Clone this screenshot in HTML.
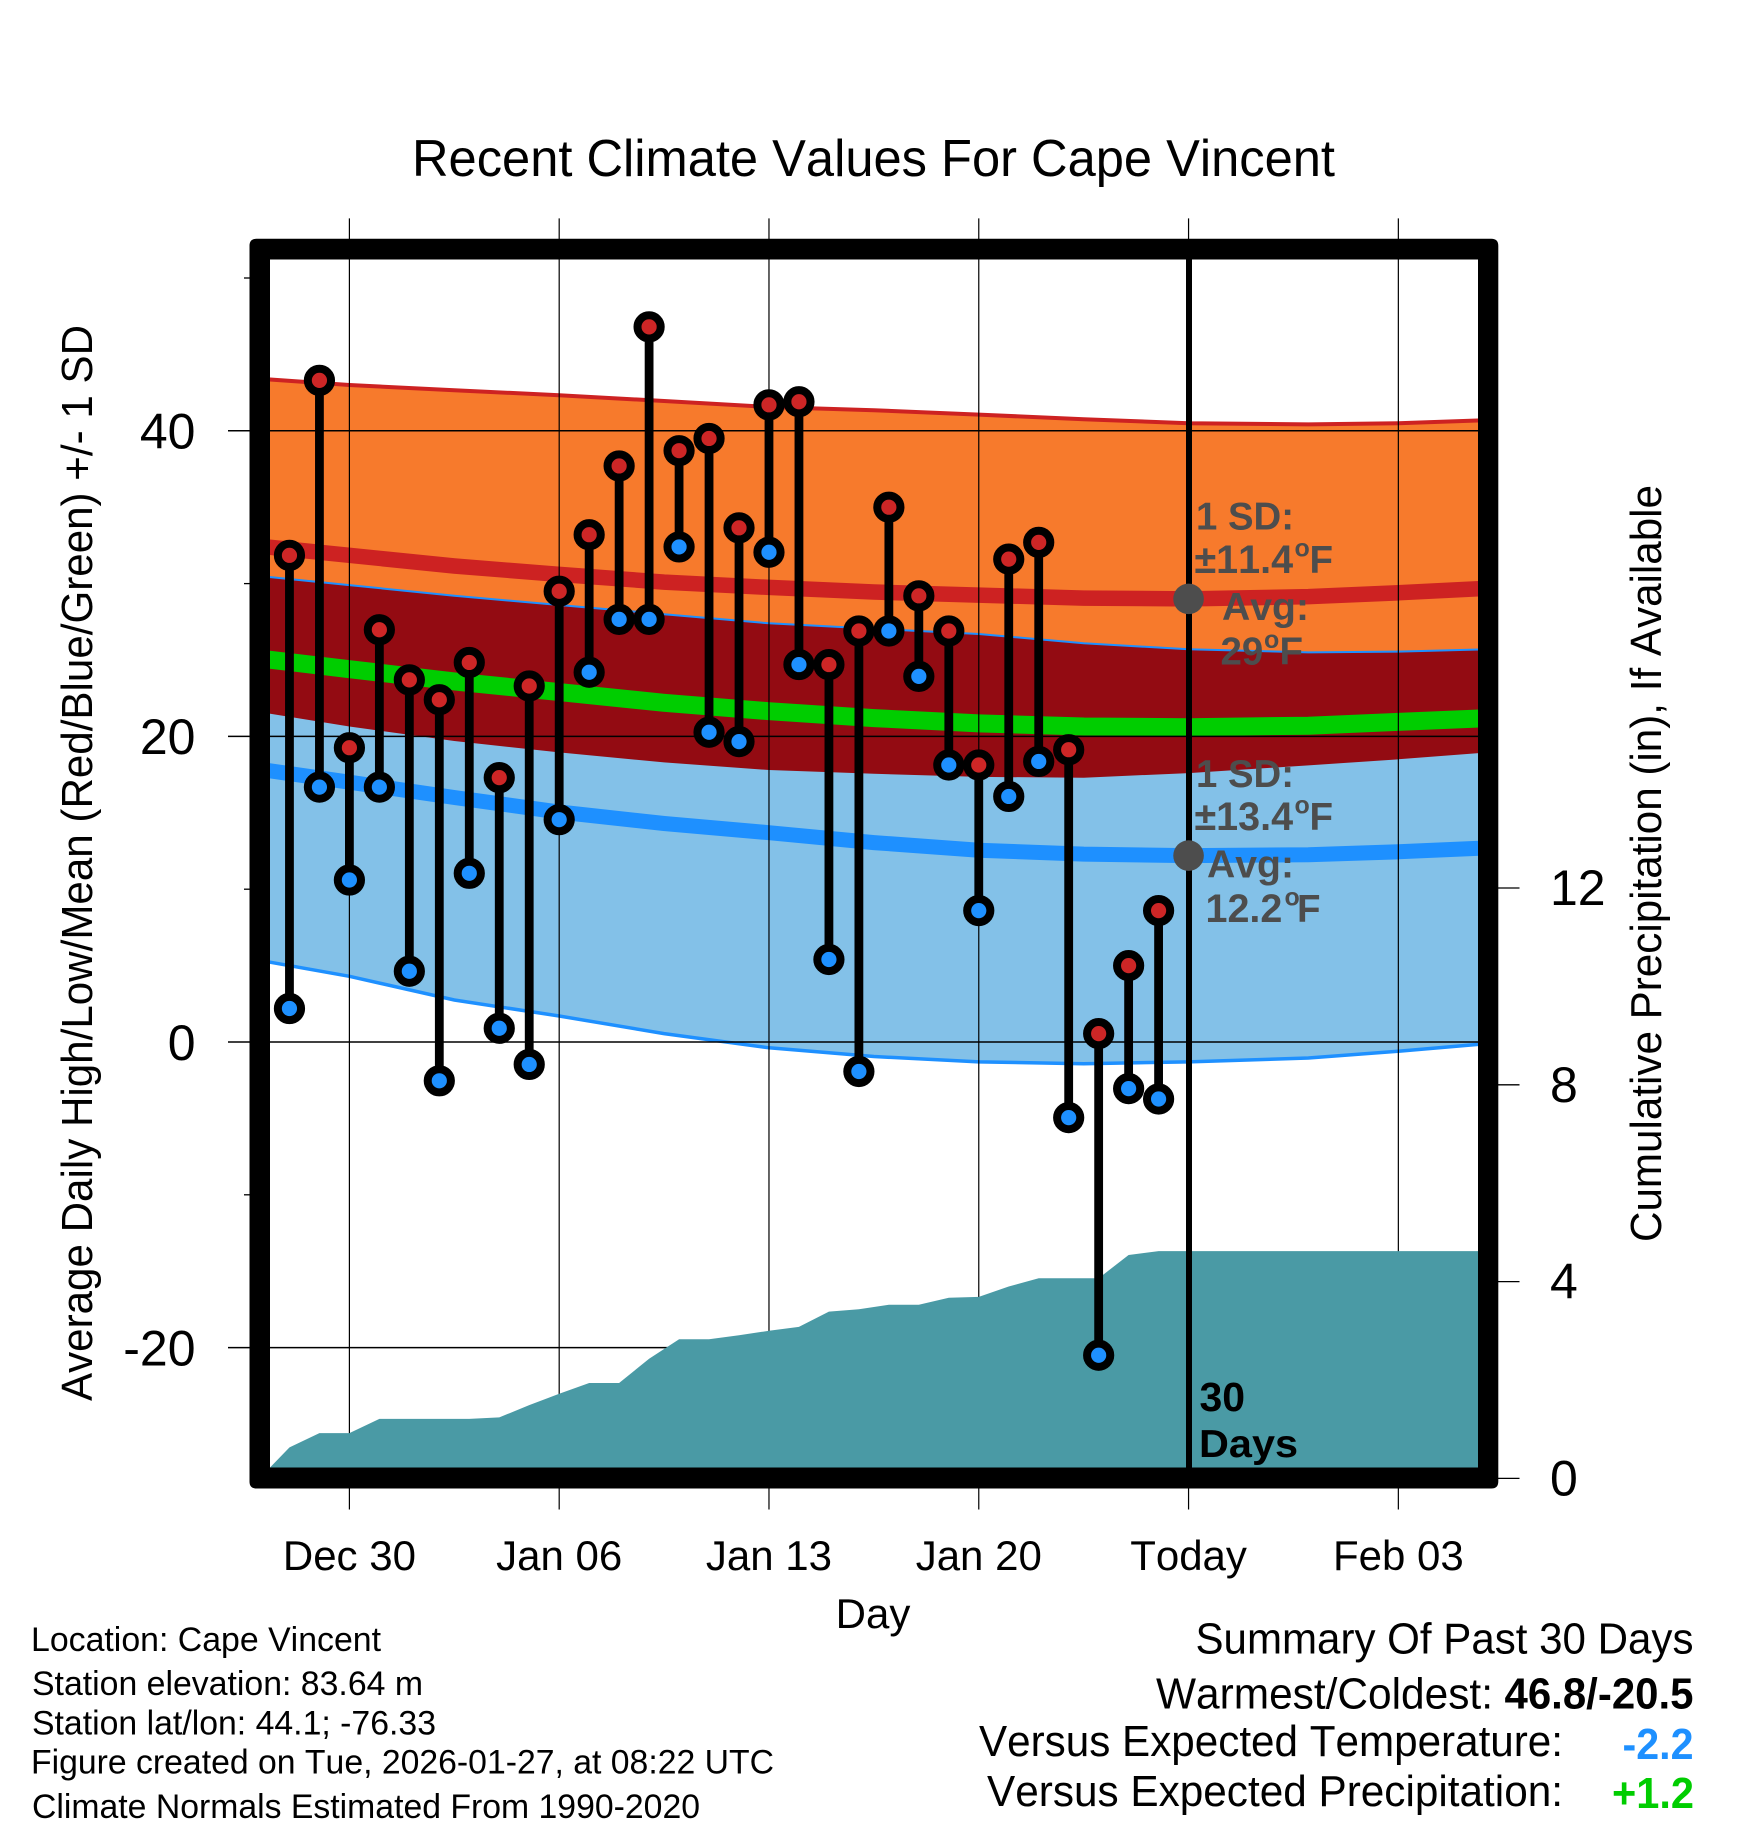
<!DOCTYPE html>
<html lang="en">
<head>
<meta charset="utf-8">
<title>Recent Climate Values For Cape Vincent</title>
<style>
html,body{margin:0;padding:0;background:#fff;}
svg{display:block;}
text{font-family:"Liberation Sans",Arial,sans-serif;fill:#000;font-kerning:none;}
.note{font-weight:bold;fill:#4d4d4d;font-size:38.5px;}
.sum{font-size:44px;}
.info{font-size:34.5px;}
</style>
</head>
<body>
<svg id="chart" xmlns="http://www.w3.org/2000/svg" width="1748" height="1828" viewBox="0 0 1748 1828">
  <rect x="0" y="0" width="1748" height="1828" fill="#fff"/>
  <g id="bands"></g>
  <g id="grid"></g>
  <g id="precip"></g>
  <path fill="#000" fill-rule="evenodd" d="M256.5 238.8H1491.3Q1498.3 238.8 1498.3 245.8V1481.5Q1498.3 1488.5 1491.3 1488.5H256.5Q249.5 1488.5 249.5 1481.5V245.8Q249.5 238.8 256.5 238.8ZM270 259.5V1467.5H1478V259.5Z"/>
  <g id="ticklabels"></g>
  <g id="temps"></g>
  <line id="today" x1="1189" x2="1189" y1="259" y2="1468" stroke="#000" stroke-width="6"/>
  <g id="avgdots"></g>

  <text x="412" y="176" font-size="52" textLength="923" lengthAdjust="spacingAndGlyphs">Recent Climate Values For Cape Vincent</text>
  <text transform="translate(92,1401) rotate(-90)" font-size="44" textLength="1076" lengthAdjust="spacingAndGlyphs">Average Daily High/Low/Mean (Red/Blue/Green) +/- 1 SD</text>
  <text transform="translate(1661,1242) rotate(-90)" font-size="44" textLength="757" lengthAdjust="spacingAndGlyphs">Cumulative Precipitation (in), If Available</text>
  <text x="873" y="1628" font-size="42" text-anchor="middle">Day</text>

  <text class="note" x="1196" y="529.5" textLength="98" lengthAdjust="spacingAndGlyphs">1 SD:</text>
  <text class="note" y="573"><tspan x="1194.5" font-size="39.5">±11.4</tspan><tspan x="1294.5" dy="-16.5" font-size="25">o</tspan><tspan x="1309.5" dy="16.5">F</tspan></text>
  <text class="note" x="1222" y="620" textLength="87" lengthAdjust="spacingAndGlyphs">Avg:</text>
  <text class="note" y="664.3"><tspan x="1220.5">29</tspan><tspan x="1264" dy="-16.5" font-size="25">o</tspan><tspan x="1279.5" dy="16.5">F</tspan></text>

  <text class="note" x="1196" y="787" textLength="98" lengthAdjust="spacingAndGlyphs">1 SD:</text>
  <text class="note" y="830"><tspan x="1194.5" font-size="39.5">±13.4</tspan><tspan x="1294.5" dy="-16.5" font-size="25">o</tspan><tspan x="1309.5" dy="16.5">F</tspan></text>
  <text class="note" x="1207" y="877.5" textLength="87" lengthAdjust="spacingAndGlyphs">Avg:</text>
  <text class="note" y="922"><tspan x="1205.5" font-size="39.5">12.2</tspan><tspan x="1284.5" dy="-16.5" font-size="25">o</tspan><tspan x="1297" dy="16.5">F</tspan></text>

  <text font-weight="bold" font-size="41" x="1199.5" y="1411">30</text>
  <text font-weight="bold" font-size="39" x="1199" y="1457" textLength="99" lengthAdjust="spacingAndGlyphs">Days</text>

  <text class="info" x="31" y="1651" textLength="350" lengthAdjust="spacingAndGlyphs">Location: Cape Vincent</text>
  <text class="info" x="32" y="1695" textLength="391" lengthAdjust="spacingAndGlyphs">Station elevation: 83.64 m</text>
  <text class="info" x="32" y="1734.5" textLength="404" lengthAdjust="spacingAndGlyphs">Station lat/lon: 44.1; -76.33</text>
  <text class="info" x="31" y="1773.5" textLength="743" lengthAdjust="spacingAndGlyphs">Figure created on Tue, 2026-01-27, at 08:22 UTC</text>
  <text class="info" x="32" y="1818" textLength="668" lengthAdjust="spacingAndGlyphs">Climate Normals Estimated From 1990-2020</text>

  <text class="sum" x="1195.5" y="1653.5" textLength="498" lengthAdjust="spacingAndGlyphs">Summary Of Past 30 Days</text>
  <text class="sum" x="1156" y="1708.5" textLength="337" lengthAdjust="spacingAndGlyphs">Warmest/Coldest:</text>
  <text class="sum" font-weight="bold" x="1504.5" y="1708.5" textLength="189" lengthAdjust="spacingAndGlyphs">46.8/-20.5</text>
  <text class="sum" x="979" y="1756" textLength="584" lengthAdjust="spacingAndGlyphs">Versus Expected Temperature:</text>
  <text class="sum" font-weight="bold" x="1622.5" y="1759" textLength="71" lengthAdjust="spacingAndGlyphs" style="fill:#1e90ff">-2.2</text>
  <text class="sum" x="987" y="1806" textLength="576" lengthAdjust="spacingAndGlyphs">Versus Expected Precipitation:</text>
  <text class="sum" font-weight="bold" x="1612" y="1808" textLength="82" lengthAdjust="spacingAndGlyphs" style="fill:#00cd00">+1.2</text>
</svg>
<script>
// Chart data (days are counted from Dec 30; temperatures in F, precipitation in inches)
var normalDays   = [-3, 0, 3.5, 7, 10.5, 14, 17.5, 21, 24.5, 28, 32, 35, 38];
var highPlusSD   = [43.4, 43.0, 42.65, 42.33, 41.95, 41.56, 41.35, 41.06, 40.75, 40.5, 40.42, 40.5, 40.7];
var highMean     = [32.45, 31.85, 31.15, 30.6, 30.1, 29.75, 29.45, 29.25, 29.05, 29.0, 29.15, 29.4, 29.7];
var highMinusSD  = [21.6, 20.65, 19.7, 18.95, 18.3, 17.8, 17.55, 17.35, 17.3, 17.6, 18.1, 18.5, 18.95];
var lowPlusSD    = [30.5, 29.9, 29.2, 28.6, 28.0, 27.4, 27.05, 26.7, 26.1, 25.7, 25.5, 25.55, 25.7];
var lowMean      = [17.85, 17.0, 16.0, 15.05, 14.3, 13.7, 13.05, 12.55, 12.3, 12.2, 12.25, 12.45, 12.7];
var lowMinusSD   = [5.35, 4.3, 2.75, 1.7, 0.55, -0.38, -0.95, -1.3, -1.42, -1.3, -1.05, -0.6, -0.1];
var meanTemp     = [25.1, 24.4, 23.6, 22.9, 22.2, 21.65, 21.2, 20.85, 20.65, 20.6, 20.7, 20.95, 21.2];

var obsDays  = [-2,-1,0,1,2,3,4,5,6,7,8,9,10,11,12,13,14,15,16,17,18,19,20,21,22,23,24,25,26,27];
var obsHighs = [31.85,43.3,19.26,26.98,23.7,22.4,24.84,17.3,23.3,29.5,33.2,37.7,46.8,38.7,39.5,33.65,41.7,41.9,24.7,26.9,35.0,29.2,26.9,18.13,31.6,32.7,19.13,0.55,5.0,8.6];
var obsLows  = [2.19,16.68,10.6,16.68,4.63,-2.54,11.04,0.9,-1.47,14.55,24.2,27.66,27.66,32.4,20.27,19.66,32.05,24.7,5.4,-1.93,26.9,23.93,18.13,8.6,16.07,18.36,-4.95,-20.5,-3.05,-3.73];

var precipDays   = [-3,-2,-1,0,1,2,3,4,5,6,7,8,9,10,11,12,13,14,15,16,17,18,19,20,21,22,23,24,25,26,27,38];
var precipValues = [0,0.63,0.92,0.92,1.21,1.21,1.21,1.21,1.24,1.49,1.72,1.94,1.94,2.43,2.83,2.83,2.91,3.0,3.08,3.39,3.44,3.53,3.53,3.67,3.69,3.9,4.07,4.07,4.07,4.54,4.62,4.62];

var avgDay = [28];
var avgValues = [29, 12.2];

var xTickDays   = [0, 7, 14, 21, 28, 35];
var xTickLabels = ['Dec 30', 'Jan 06', 'Jan 13', 'Jan 20', 'Today', 'Feb 03'];
var yMajorTicks = [40, 20, 0, -20];
var yMajorLabels = ['40', '20', '0', '-20'];
var yMinorTicks = [50, 30, 10, -10];
var rightTicks  = [0, 4, 8, 12];
var rightLabels = ['0', '4', '8', '12'];

// Axis functions
function xScale(d) { return 349.4 + 29.97 * d; }
function yTemp(v) { return 1042 - 15.28 * v; }
function yPrecip(p) { return 1478.4 - 49.2 * p; }

var NS = 'http://www.w3.org/2000/svg';
function make(tag, parent, attrs) {
  var el = document.createElementNS(NS, tag);
  for (var k in attrs) el.setAttribute(k, attrs[k]);
  parent.appendChild(el);
  return el;
}
function linePts(days, vals) {
  return days.map(function (d, i) { return xScale(d).toFixed(1) + ',' + yTemp(vals[i]).toFixed(1); });
}
function bandPts(days, top, bottom) {
  return linePts(days, top).concat(linePts(days, bottom).reverse()).join(' ');
}

var bands = document.getElementById('bands');
var orange = make('polygon', bands, { points: bandPts(normalDays, highPlusSD, highMinusSD), fill: '#f77a2c' });


var lightBlue = make('polygon', bands, { points: bandPts(normalDays, lowPlusSD, lowMinusSD), fill: '#83c1e8' });


var overlap = make('polygon', bands, { points: bandPts(normalDays, lowPlusSD, highMinusSD), fill: '#930b12' });



var l1 = make('polyline', bands, { points: linePts(normalDays, highPlusSD).join(' '), fill: 'none', stroke: '#cd2222', 'stroke-width': 4 });


var l2 = make('polyline', bands, { points: linePts(normalDays, lowPlusSD).join(' '), fill: 'none', stroke: '#1e90ff', 'stroke-width': 2 });


var l3 = make('polyline', bands, { points: linePts(normalDays, lowMinusSD).join(' '), fill: 'none', stroke: '#1e90ff', 'stroke-width': 3.5 });


var l4 = make('polyline', bands, { points: linePts(normalDays, highMean).join(' '), fill: 'none', stroke: '#cd2222', 'stroke-width': 15.5 });


var l5 = make('polyline', bands, { points: linePts(normalDays, meanTemp).join(' '), fill: 'none', stroke: '#00cd00', 'stroke-width': 18 });


var l6 = make('polyline', bands, { points: linePts(normalDays, lowMean).join(' '), fill: 'none', stroke: '#1e90ff', 'stroke-width': 15 });



var grid = document.getElementById('grid');
var labels = document.getElementById('ticklabels');
xTickDays.forEach(function (d, i) {
  var gl = make('line', grid, { x1: xScale(d), x2: xScale(d), y1: 218.4, y2: 1509.5, stroke: '#000', 'stroke-width': 1.2 });
  
  
  var t = make('text', labels, { x: xScale(d), y: 1570, 'font-size': 42, 'text-anchor': 'middle' });
  
  
  t.textContent = xTickLabels[i];
});
yMajorTicks.forEach(function (v, i) {
  var gl = make('line', grid, { x1: 228, x2: 1478, y1: yTemp(v), y2: yTemp(v), stroke: '#000', 'stroke-width': 1.5 });
  
  
  var t = make('text', labels, { x: 195.5, y: yTemp(v) + 17.8, 'font-size': 50, 'text-anchor': 'end' });
  
  
  t.textContent = yMajorLabels[i];
});
yMinorTicks.forEach(function (v) {
  var tk = make('line', grid, { x1: 244, x2: 252, y1: yTemp(v), y2: yTemp(v), stroke: '#000', 'stroke-width': 1.3 });
  
  
});
rightTicks.forEach(function (p, i) {
  var tk = make('line', grid, { x1: 1496, x2: 1519.5, y1: yPrecip(p), y2: yPrecip(p), stroke: '#000', 'stroke-width': 1.3 });
  
  
  var t = make('text', labels, { x: 1550, y: yPrecip(p) + 17, 'font-size': 50 });
  
  
  t.textContent = rightLabels[i];
});

var precip = document.getElementById('precip');
var precipPts = precipDays.map(function (d, i) { return xScale(d).toFixed(1) + ',' + yPrecip(precipValues[i]).toFixed(1); });
precipPts.push(xScale(precipDays[precipDays.length - 1]).toFixed(1) + ',' + yPrecip(0).toFixed(1));
var area = make('polygon', precip, { points: precipPts.join(' '), fill: '#4a9aa5' });



var temps = document.getElementById('temps');
obsDays.forEach(function (d, i) {
  var stem = make('line', temps, { x1: xScale(d), x2: xScale(d), y1: yTemp(obsHighs[i]), y2: yTemp(obsLows[i]), stroke: '#000', 'stroke-width': 8.8 });
  
  
});
obsDays.forEach(function (d, i) {
  var hi = make('circle', temps, { cx: xScale(d), cy: yTemp(obsHighs[i]), r: 11.6, fill: '#cd2626', stroke: '#000', 'stroke-width': 8 });
  
  
  var lo = make('circle', temps, { cx: xScale(d), cy: yTemp(obsLows[i]), r: 11.6, fill: '#1e90ff', stroke: '#000', 'stroke-width': 8 });
  
  
});

var avgDots = document.getElementById('avgdots');
avgValues.forEach(function (v) {
  var dot = make('circle', avgDots, { cx: xScale(avgDay[0]), cy: yTemp(v), r: 15.3, fill: '#4d4d4d' });
  
  
});
</script>
</body>
</html>
